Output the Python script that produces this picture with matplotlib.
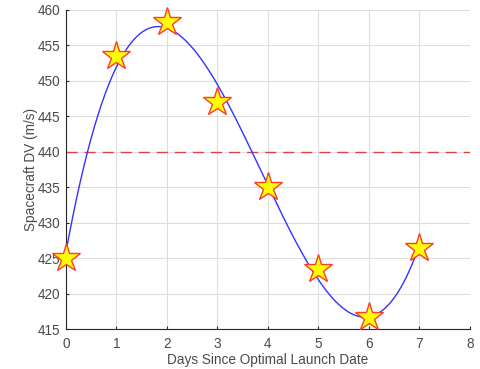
import numpy as np
import matplotlib.pyplot as plt

plt.rcParams['font.family'] = ['Liberation Sans', 'DejaVu Sans']

days = np.array([0, 1, 2, 3, 4, 5, 6, 7])
dv = np.array([425.0, 453.5, 458.3, 447.0, 435.0, 423.5, 416.7, 426.5])
dv_limit = 440
fit_degree = 3

def fit_curve(x, y, degree):
    coefficients = np.polyfit(x, y, degree)
    x_fine = np.linspace(x.min(), x.max(), 300)
    return x_fine, np.polyval(coefficients, x_fine)

fig = plt.figure(figsize=(4.81, 3.69), dpi=100)
ax = fig.add_axes([0.137, 0.108, 0.84, 0.865])

x_fine, y_fine = fit_curve(days, dv, fit_degree)
ax.plot(x_fine, y_fine, color='#3333ff', linewidth=1.0, zorder=3)
ax.axhline(dv_limit, color='#e04040', linestyle=(0, (8, 5)), linewidth=1.0, zorder=2)
ax.plot(days, dv, linestyle='none', marker='*', markersize=21,
        markerfacecolor='yellow', markeredgecolor='#ff3b2f', markeredgewidth=1.0, zorder=4,
        clip_on=False)

ax.set_xlim(0, 8)
ax.set_ylim(415, 460)
ax.set_xticks(range(0, 9))
ax.set_yticks(range(415, 461, 5))
ax.grid(True, color='#dedede', linewidth=0.8)
ax.set_axisbelow(True)
for side in ['top', 'right']:
    ax.spines[side].set_visible(False)
for side in ['left', 'bottom']:
    ax.spines[side].set_color('#262626')
    ax.spines[side].set_linewidth(0.8)
ax.tick_params(colors='#262626', labelsize=9.8, length=2.5, direction='in', labelcolor='#4a4a4a')
ax.tick_params(axis='x', pad=6)
ax.tick_params(axis='y', pad=4)
ax.set_xlabel('Days Since Optimal Launch Date', fontsize=9.8, color='#4a4a4a', labelpad=1)
ax.set_ylabel('Spacecraft DV (m/s)', fontsize=9.8, color='#4a4a4a', labelpad=0)

fig.savefig('out.png', dpi=100)
